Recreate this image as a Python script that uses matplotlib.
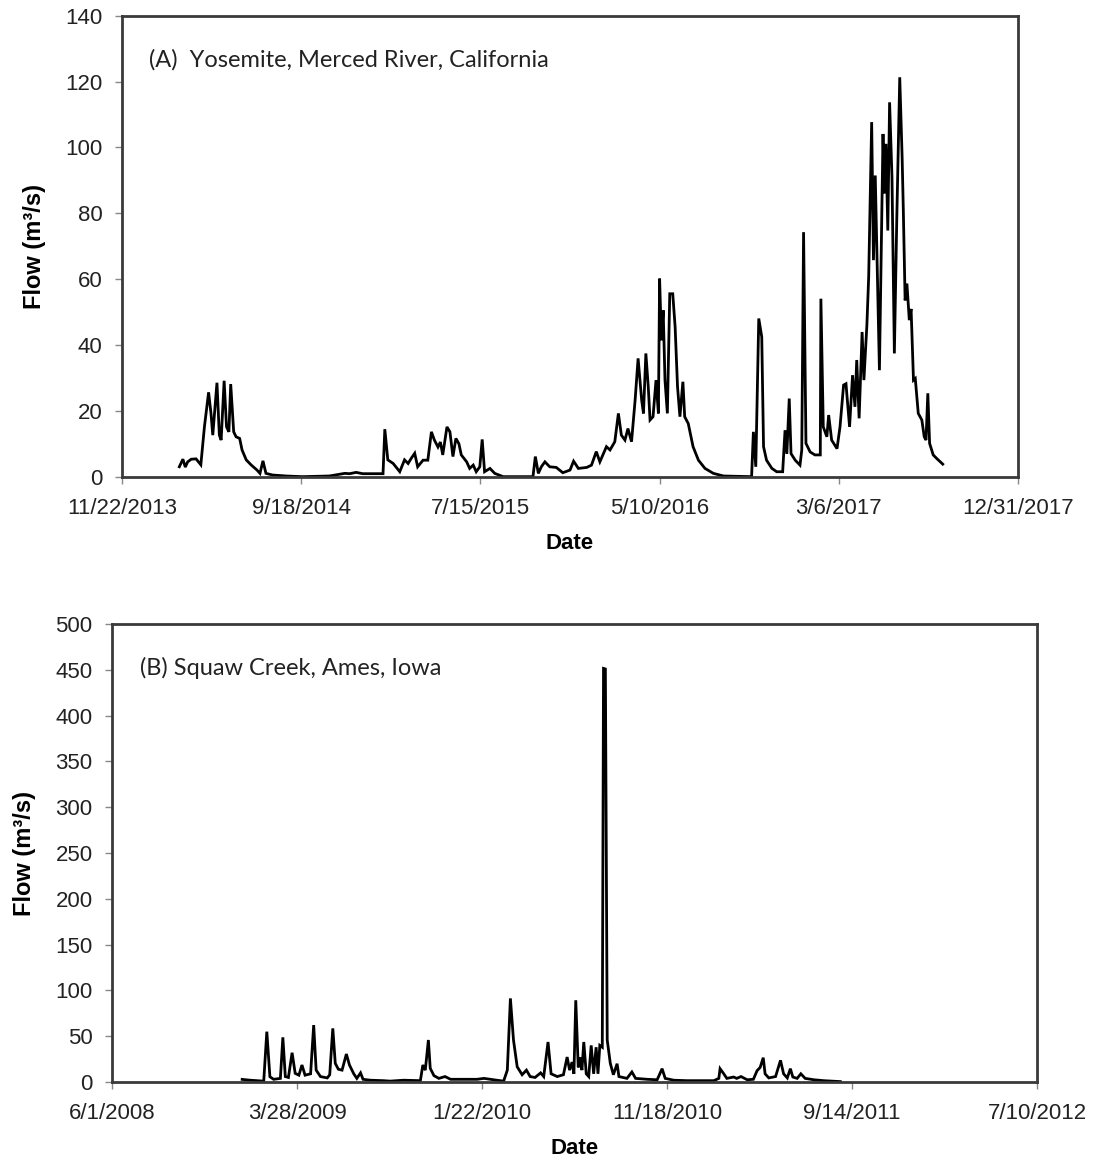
"""Hidrogramas de vazão: (A) Merced River em Yosemite, (B) Squaw Creek em Ames."""

import numpy as np
import matplotlib
matplotlib.use("Agg")
import matplotlib.pyplot as plt

# (A) Yosemite — dias desde 22/11/2013 e vazão (m3/s)
inicio_a = np.datetime64("2013-11-22")
dias_a = [
    96, 102, 106, 110, 116, 124, 132, 138, 145, 149, 152, 159, 163, 166, 171, 175,
    179, 182, 187, 191, 197, 201, 208, 216, 226, 231, 236, 241, 252, 275, 302, 347,
    373, 381, 392, 403, 437, 440, 445, 454, 465, 473, 479, 484, 490, 495, 504, 512,
    518, 523, 529, 533, 537, 544, 549, 554, 559, 564, 568, 577, 582, 588, 593, 599,
    603, 607, 616, 624, 638, 688, 692, 697, 702, 708, 716, 727, 738, 750, 756, 764,
    778, 786, 794, 800, 805, 811, 817, 825, 831, 836, 842, 847, 853, 859, 864, 870,
    873, 877, 881, 884, 889, 894, 898, 900, 903, 906, 909, 913, 917, 922, 926, 930,
    934, 939, 942, 948, 956, 965, 976, 990, 1007, 1054, 1057, 1061, 1066, 1071, 1074,
    1079, 1088, 1096, 1106, 1110, 1113, 1117, 1120, 1127, 1135, 1138, 1141, 1145, 1152,
    1160, 1169, 1170, 1174, 1180, 1183, 1188, 1197, 1202, 1208, 1212, 1218, 1223, 1227,
    1230, 1234, 1239, 1242, 1247, 1250, 1255, 1258, 1261, 1264, 1268, 1274, 1276, 1279,
    1282, 1285, 1289, 1293, 1297, 1302, 1306, 1308, 1311, 1314, 1318, 1321, 1325, 1328,
    1333, 1339, 1343, 1346, 1349, 1352, 1358, 1364, 1374,
]
vazao_a = [
    3.1, 5.4, 3.0, 4.6, 5.4, 5.5, 3.7, 15.2, 25.7, 19.3, 12.7, 28.6, 12.7, 11.2, 29.2, 15.2,
    13.7, 28.2, 13.7, 12.2, 11.7, 8.2, 5.2, 3.7, 2.1, 1.1, 4.9, 1.1, 0.6, 0.3, 0.1, 0.3,
    1.1, 1.0, 1.4, 1.0, 1.0, 14.5, 5.2, 4.1, 1.6, 5.2, 4.1, 5.6, 7.2, 3.1, 5.1, 5.1,
    13.7, 11.2, 9.1, 10.6, 6.7, 15.2, 13.7, 6.2, 11.7, 10.1, 6.7, 4.6, 2.6, 3.6, 1.6, 3.1,
    11.4, 1.6, 2.6, 1.1, 0.1, 0.1, 6.2, 1.1, 3.1, 4.6, 3.1, 2.9, 1.3, 2.1, 4.8, 2.6,
    2.9, 3.6, 7.7, 4.6, 6.7, 9.2, 8.2, 10.7, 19.3, 12.7, 11.2, 14.7, 10.7, 23.3, 36.0, 23.3,
    19.3, 37.5, 27.4, 17.3, 18.3, 29.4, 19.3, 60.2, 41.5, 50.6, 29.4, 19.3, 55.6, 55.6, 45.5, 27.4,
    18.3, 28.9, 18.3, 16.2, 9.2, 5.1, 2.6, 1.1, 0.3, 0.1, 13.7, 3.1, 48.1, 42.5, 9.2,
    5.1, 2.6, 1.6, 1.6, 14.2, 7.0, 23.8, 7.1, 5.1, 3.6, 8.2, 74.3, 10.2, 7.6,
    6.7, 6.7, 54.1, 15.2, 12.2, 18.8, 11.2, 8.6, 15.2, 27.9, 28.3, 15.2, 30.9, 21.3,
    35.5, 17.8, 44.0, 29.4, 46.1, 60.7, 107.7, 65.8, 91.5, 65.8, 32.4, 104.1, 86.0, 101.1,
    74.8, 113.7, 91.0, 37.5, 77.9, 121.3, 97.0, 80.9, 53.6, 58.7, 47.6, 51.0, 29.4, 29.9,
    19.3, 17.3, 12.2, 11.2, 25.4, 10.2, 6.7, 5.6, 3.9,
]

# (B) Squaw Creek — dias desde 01/06/2008 e vazão (m3/s)
inicio_b = np.datetime64("2008-06-01")
dias_b = [
    211, 224, 246, 251, 256, 262, 273, 277, 281, 286, 292, 297, 303, 308, 313, 322,
    327, 331, 338, 349, 353, 358, 362, 367, 373, 380, 385, 392, 397, 403, 407, 419,
    440, 451, 473, 500, 504, 508, 513, 516, 522, 530, 540, 549, 570, 592, 603, 624,
    635, 641, 646, 651, 657, 665, 672, 678, 686, 695, 700, 707, 712, 722, 732, 738,
    742, 746, 749, 752, 756, 759, 762, 765, 769, 773, 777, 781, 785, 788, 791, 795,
    797, 800, 803, 808, 813, 819, 822, 835, 843, 849, 868, 884, 892, 897, 911, 932,
    976, 984, 986, 992, 997, 1008, 1013, 1020, 1030, 1040, 1046, 1051, 1056, 1059, 1065,
    1076, 1084, 1089, 1095, 1100, 1104, 1111, 1117, 1124, 1138, 1154, 1181,
]
vazao_b = [
    2.9, 2.0, 1.0, 55.0, 5.8, 3.0, 4.0, 48.8, 6.0, 5.0, 32.0, 9.5, 7.5, 18.6, 7.5, 9.0,
    62.2, 13.0, 6.0, 4.5, 8.0, 58.6, 20.4, 14.0, 13.0, 30.6, 18.6, 9.0, 4.0, 10.0, 3.0, 2.0,
    1.5, 1.0, 2.0, 1.5, 18.6, 13.0, 45.9, 15.0, 7.0, 4.0, 6.0, 3.0, 3.0, 3.0, 4.0, 2.0,
    1.0, 13.0, 91.3, 45.9, 16.7, 8.0, 13.0, 6.0, 5.0, 10.0, 6.0, 43.7, 9.0, 6.0, 8.0, 27.3,
    13.0, 21.8, 9.0, 89.3, 16.0, 27.0, 13.0, 43.7, 9.0, 6.0, 40.0, 9.0, 38.0, 9.0, 40.0, 38.0,
    451.6, 451.0, 45.9, 20.4, 8.0, 20.0, 6.0, 4.0, 11.0, 4.0, 3.0, 2.5, 14.6, 4.0, 2.0, 1.5,
    1.5, 4.0, 14.6, 9.0, 4.0, 5.5, 4.0, 6.0, 2.5, 3.0, 12.4, 16.0, 26.6, 9.0, 4.5,
    6.0, 23.7, 9.0, 4.5, 14.6, 5.5, 4.0, 9.0, 4.0, 2.5, 1.5, 0.5,
]

rotulo_a = "(A)  Yosemite, Merced River, California"
rotulo_b = "(B) Squaw Creek, Ames, Iowa"
yticks_a = list(range(0, 141, 20))
yticks_b = list(range(0, 501, 50))

COR_EIXO = "#3a3a3a"
FONTE = "Liberation Sans"
plt.rcParams["font.family"] = [FONTE, "DejaVu Sans"]


def formatar_data(d):
    ano, mes, dia = str(d).split("-")
    return f"{int(mes)}/{int(dia)}/{ano}"


def painel(ax, inicio, dias, vazao, yticks, rotulo):
    datas = inicio + np.array(dias, dtype="timedelta64[D]")
    ax.plot(datas, vazao, color="black", linewidth=2.0, solid_joinstyle="miter")

    xt = [inicio + np.timedelta64(300 * i, "D") for i in range(6)]
    ax.set_xlim(xt[0], xt[-1])
    ax.set_xticks(xt)
    ax.set_xticklabels([formatar_data(d) for d in xt], fontsize=16, color="#222222")
    ax.set_ylim(yticks[0], yticks[-1])
    ax.set_yticks(yticks)
    ax.set_yticklabels([str(v) for v in yticks], fontsize=16, color="#222222")

    for s in ax.spines.values():
        s.set_color(COR_EIXO)
        s.set_linewidth(2.0)
    ax.tick_params(direction="out", length=5, width=1, color="#888888")
    ax.tick_params(axis="x", pad=10)
    ax.tick_params(axis="y", pad=9)
    ax.set_xlabel("Date", fontsize=16, fontweight="bold", labelpad=10)
    ax.set_ylabel("Flow (m³/s)", fontsize=17, fontweight="bold", labelpad=14)
    ax.text(0.03, 0.905, rotulo, transform=ax.transAxes, fontsize=17,
            family="Lato", color="#222222", va="center", ha="left")


fig = plt.figure(figsize=(10.93, 11.6), dpi=100)
ax_a = fig.add_axes([0.1116, 0.5888, 0.8198, 0.3977])
ax_b = fig.add_axes([0.1025, 0.0672, 0.8463, 0.3948])

painel(ax_a, inicio_a, dias_a, vazao_a, yticks_a, rotulo_a)
painel(ax_b, inicio_b, dias_b, vazao_b, yticks_b, rotulo_b)

fig.savefig("out.png", dpi=100, facecolor="white")
